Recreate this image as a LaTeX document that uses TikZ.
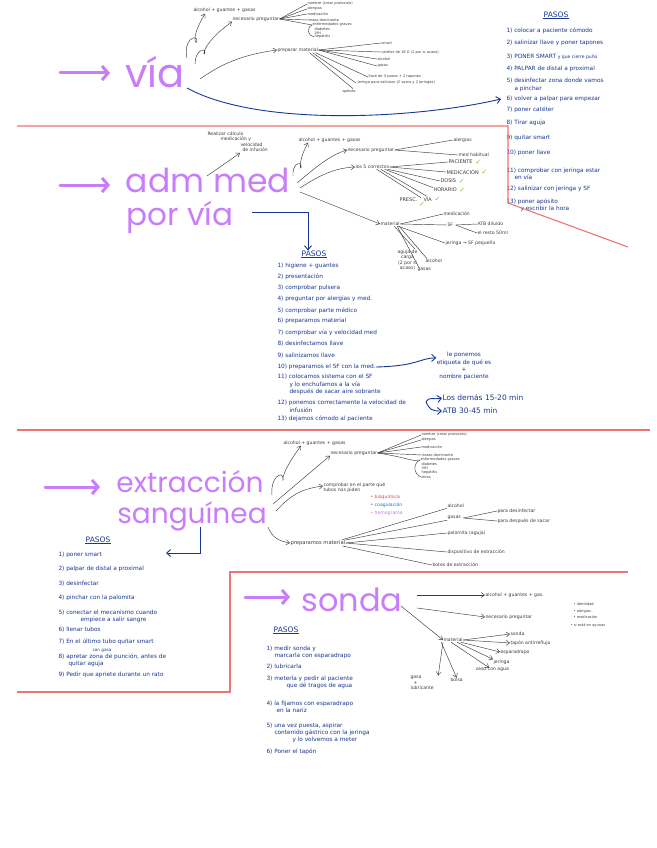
\documentclass[tikz,border=0pt]{standalone}
\usepackage{fontspec}
\setmainfont{DejaVu Sans}
\newfontfamily\tfont{Poppins}
\usetikzlibrary{arrows.meta}
\definecolor{ink}{RGB}{60,60,60}
\definecolor{bink}{RGB}{25,55,145}
\definecolor{vio}{RGB}{200,125,250}
\definecolor{redc}{RGB}{240,115,115}
\definecolor{grn}{RGB}{120,200,60}
\definecolor{rbul}{RGB}{240,60,60}
\definecolor{bbul}{RGB}{30,110,230}
\definecolor{pbul}{RGB}{190,120,240}
\newcommand\mygs{\fontsize{4.6}{5.6}\selectfont}
\newcommand\mygt{\fontsize{3.6}{4.2}\selectfont}
\newcommand\mygc{\fontsize{5}{6}\selectfont}
\newcommand\mybs{\fontsize{5.8}{7.2}\selectfont}
\newcommand\mybt{\fontsize{7.5}{8}\selectfont}
\begin{document}
\begin{tikzpicture}[x=1pt,y=-1pt,
 g/.style={font=\mygs, text=ink, inner sep=0.3pt, anchor=west},
 gt/.style={font=\mygt, text=ink, inner sep=0.3pt, anchor=west},
 gc/.style={font=\mygc, text=ink, inner sep=0.3pt, anchor=west},
 bl/.style={font=\mybs, text=bink, inner sep=0.3pt, anchor=west, align=left},
 bt/.style={font=\mybt, text=bink, inner sep=0.6pt},
 ttl/.style={text=vio, inner sep=0pt},
 arr/.style={draw=ink, line width=0.45pt, -{Straight Barb[length=3.5pt,width=5pt]}},
 ln/.style={draw=ink, line width=0.45pt},
 parr/.style={draw=vio, line width=3pt, line cap=round, -{Straight Barb[length=6pt,width=14pt]}},
 barr/.style={draw=bink, line width=0.9pt, -{Straight Barb[length=4pt,width=7pt]}},
 redl/.style={draw=redc, line width=1.1pt},
 chk/.style={text=grn, font=\fontsize{7}{7}\selectfont, inner sep=0, anchor=west}]
\fill[white] (0,0) rectangle (656,848);
\useasboundingbox (0,0) rectangle (656,848);

% ===================== VIA =====================
\node[ttl, font=\tfont\fontsize{40}{40}\selectfont] (via) at (155,72) {vía};
\coordinate (pa1) at (60,73);
\draw[parr] (pa1) -- (110,73);

\node[g] (alc1) at (193,10) {alcohol + guantes + gasas};
\node[g] (nec1) at (232,19) {necesario preguntar};
\node[gt] (n1a) at (307,4) {nombre (crear protocolo)};
\node[gt] (n1b) at (307,9) {alergias};
\node[gt] (n1c) at (307,14) {medicación};
\node[gt] (n1d) at (308,20) {brazo dominante};
\node[gt] (n1e) at (312,25) {enfermedades graves};
\node[gt] (n1f) at (314,29) {diabetes};
\node[gt] (n1g) at (314,33) {VIH};
\node[gt] (n1h) at (314,37) {hepatitis};
\foreach \t in {n1a,n1b,n1c,n1d,n1e} \draw[ln] (nec1.east) -- (\t.west);
\draw[ln] (n1e.west) .. controls (306,28) and (308,36) .. (n1h.west);

\node[g] (pm1) at (277,50) {preparar material};
\node[gt] (m1a) at (381,43) {smart};
\node[gt] (m1b) at (381,52) {catéter de 18 G (2 por si acaso)};
\node[gt] (m1c) at (377,59) {alcohol};
\node[gt] (m1d) at (377,66) {gasas};
\node[gt] (m1e) at (368,77) {llave de 3 pasos + 2 tapones};
\node[gt] (m1f) at (357,83) {jeringa para salinizar (2 suero y 2 jeringas)};
\node[gt] (m1g) at (342,91) {apósito};
\foreach \t in {m1a,m1b,m1c,m1d} \draw[ln] (pm1.east) -- (\t.west);
\draw[ln] ([xshift=-3pt]pm1.south east) -- (m1e.west);
\draw[ln] ([xshift=-6pt]pm1.south east) -- ([xshift=-1pt]m1f.west);
\draw[ln] ([xshift=-9pt]pm1.south east) -- ([xshift=4pt]m1g.north);

\coordinate (v1) at (187,58);
\coordinate (v2) at (195,64);
\coordinate (v3) at (200,79);
\draw[arr] (v1) .. controls (183,40) and (196,34) .. (197,40) .. controls (198,46) and (188,42) .. ([xshift=12pt,yshift=-1pt]alc1.south west);
\draw[arr] (v2) .. controls (195,50) and (206,47) .. (205,53) .. controls (203,58) and (200,45) .. (nec1.south west);
\draw[arr] (v3) .. controls (220,65) and (240,55) .. (pm1.west);

\coordinate (vb) at (187,88);

% ===================== PASOS (via) =====================
\node[bt] (pt1) at (556,15) {PASOS};
\draw[bink, line width=0.6pt] (pt1.south west) -- (pt1.south east);
\node[bl] (p1) at (506,31) {1) colocar a paciente cómodo};
\node[bl] (p2) at (506,43) {2) salinizar llave y poner tapones};
\node[bl] (p3) at (506,57) {3) PONER SMART {\fontsize{4.5}{5}\selectfont y que cierre puño}};
\node[bl] (p4) at (506,69) {4) PALPAR de distal a proximal};
\node[bl] (p5) at (506,85) {5) desinfectar zona donde vamos\\\hspace*{8pt}a pinchar};
\node[bl] (p6) at (506,99) {6) volver a palpar para empezar};
\node[bl] (p7) at (506,110) {7) poner catéter};
\node[bl] (p8) at (506,123) {8) Tirar aguja};
\node[bl] (p9) at (506,138) {9) quitar smart};
\node[bl] (p10) at (506,153) {10) poner llave};
\node[bl] (p11) at (506,174) {11) comprobar con jeringa estar\\\hspace*{8pt}en vía};
\node[bl] (p12) at (506,189) {12) salinizar con jeringa y SF};
\node[bl] (p13) at (506,205) {13) poner apósito\\\hspace*{14pt}y escribir la hora};
\draw[barr] (vb) .. controls (260,128) and (420,118) .. ([xshift=-5pt]p6.west);

\draw[redl] (17,126) -- (508,126) -- (508,203) -- (628,247);

% ===================== ADM MED =====================
\node[ttl, font=\tfont\fontsize{33}{33}\selectfont] (adm) at (208,180) {adm med};
\node[ttl, font=\tfont\fontsize{31}{31}\selectfont] (por) at (180,217) {por vía};
\coordinate (pa2) at (60,185);
\draw[parr] (pa2) -- (110,185);

\node[g, anchor=north west, align=left] (calc) at (207,131) {Realizar cálculo\\\hspace*{13pt}medicación y\\\hspace*{33pt}velocidad\\\hspace*{35pt}de infusión};
\coordinate (a0) at (207,176);
\draw[arr] (a0) -- (240,153);

\node[g] (alc2) at (298,140) {alcohol + guantes + gasas};
\node[g] (nec2) at (347,150) {necesario preguntar};
\node[g] (alg2) at (453,140) {alergias};
\node[g] (mh2) at (458,155) {med habitual};
\draw[ln] (nec2.east) -- (alg2.west);
\draw[ln] (nec2.east) -- (mh2.west);

\node[g] (cor) at (355,167) {los 5 correctos};
\node[gc] (pac) at (448,162) {PACIENTE};
\node[gc] (med) at (446,172) {MEDICACIÓN};
\node[gc] (dos) at (440,181) {DOSIS};
\node[gc] (hor) at (433,190) {HORARIO};
\node[gc] (via2) at (423,199) {VÍA};
\node[gc] (pre) at (399,200) {PRESC.};
\foreach \t in {pac,med,dos,hor,via2} \node[chk] at ([xshift=2pt]\t.east) {✓};
\node[chk] at ([xshift=1pt,yshift=-2pt]pre.south east) {✓};
\draw[ln] (cor.east) -- (pac.west);
\draw[ln] (cor.east) -- (med.west);
\draw[ln] ([xshift=-2pt]cor.south east) -- (dos.west);
\draw[ln] ([xshift=-5pt]cor.south east) -- (hor.north west);
\draw[ln] ([xshift=-9pt]cor.south east) -- ([xshift=-1pt]via2.north);
\draw[ln] ([xshift=-13pt]cor.south east) -- ([xshift=3pt]pre.north east);

\node[g] (mat2) at (380,224) {material};
\node[g] (medic) at (443,214) {medicación};
\node[g] (sf) at (447,225) {SF};
\node[g] (atb) at (477,224) {ATB diluido};
\node[g] (rest) at (477,233) {el resto 50ml};
\node[g] (jer2) at (445,243) {jeringa → SF pequeño};
\node[g, align=center] (agu) at (397,260) {aguja de\\carga\\(2 por si\\acaso)};
\node[g] (alco2) at (425,261) {alcohol};
\node[g] (gas2) at (417,270) {gasas};
\draw[ln] (mat2.east) -- (medic.west);
\draw[ln] (mat2.east) -- (sf.west);
\draw[ln] ([xshift=-2pt]mat2.south east) -- (jer2.west);
\draw[ln] ([xshift=2pt]sf.east) -- (atb.west);
\draw[ln] ([xshift=2pt]sf.east) -- (rest.west);
\draw[ln] ([xshift=-6pt]mat2.south east) -- ([xshift=-3pt]agu.north east);
\draw[ln] ([xshift=-3pt]mat2.south east) -- ([xshift=2pt]gas2.north west);
\draw[ln] ([xshift=-1pt]mat2.south east) -- ([xshift=2pt]alco2.north west);

\coordinate (a1) at (293,176);
\coordinate (a2) at (297,183);
\coordinate (a3) at (300,188);
\coordinate (a4) at (300,192);
\draw[arr] (a1) .. controls (292,165) and (300,160) .. (301,166) .. controls (302,172) and (296,165) .. ([xshift=10pt]alc2.south west);
\draw[arr] (a2) .. controls (315,168) and (330,155) .. (nec2.west);
\draw[arr] (a3) .. controls (320,175) and (335,168) .. (cor.west);
\draw[arr] (a4) -- (mat2.west);

% ===================== PASOS (adm med) =====================
\node[bt] (pt2) at (314,254) {PASOS};
\draw[bink, line width=0.6pt] (pt2.south west) -- (pt2.south east);
\coordinate (bp) at (252,212);
\draw[barr] (bp) -- (308,212) -- (pt2.north -| 308,0);
\node[bl] (q1) at (277,266) {1) higiene + guantes};
\node[bl] (q2) at (277,277) {2) presentación};
\node[bl] (q3) at (277,288) {3) comprobar pulsera};
\node[bl] (q4) at (277,299) {4) preguntar por alergias y med.};
\node[bl] (q5) at (277,311) {5) comprobar parte médico};
\node[bl] (q6) at (277,321) {6) preparamos material};
\node[bl] (q7) at (277,333) {7) comprobar vía y velocidad med};
\node[bl] (q8) at (277,344) {8) desinfectamos llave};
\node[bl] (q9) at (277,356) {9) salinizamos llave};
\node[bl] (q10) at (277,367) {10) preparamos el SF con la med.};
\node[bl, anchor=north west] (q11) at (277,374) {11) colocamos sistema con el SF\\\hspace*{12pt}y lo enchufamos a la vía\\\hspace*{12pt}después de sacar aire sobrante};
\node[bl, anchor=north west] (q12) at (277,400) {12) ponemos correctamente la velocidad de\\\hspace*{12pt}infusión};
\node[bl] (q13) at (277,419) {13) dejamos cómodo al paciente};
\node[bl, align=center, anchor=center] (eti) at (464,366) {le ponemos\\etiqueta de qué es\\+\\nombre paciente};
\draw[barr] (q10.east) .. controls (418,366) and (420,358) .. ([yshift=-6pt]eti.north west);
\node[bl, font=\fontsize{7.5}{8}\selectfont] (dem) at (442,398) {Los demás 15-20 min};
\node[bl, font=\fontsize{7.5}{8}\selectfont] (atb2) at (442,411) {ATB 30-45 min};
\coordinate (c12) at (426,402);
\draw[barr] (c12) .. controls (430,396) and (432,400) .. (dem.west);
\draw[barr] (c12) .. controls (430,410) and (432,411) .. (atb2.west);

\draw[redl] (17,430) -- (650,430);

% ===================== EXTRACCION =====================
\node[ttl, font=\tfont\fontsize{28}{28}\selectfont] (ext) at (190,482) {extracción};
\node[ttl, font=\tfont\fontsize{28}{28}\selectfont] (san) at (192,516) {sanguínea};
\coordinate (pa3) at (45,487);
\draw[parr] (pa3) -- (100,487);

\node[g] (alc3) at (283,443) {alcohol + guantes + gasas};
\node[g] (nec3) at (330,453) {necesario preguntar};
\node[gt] (e1) at (421,435) {nombre (crear protocolo)};
\node[gt] (e2) at (421,440) {alergias};
\node[gt] (e3) at (421,447) {medicación};
\node[gt] (e4) at (422,455) {brazo dominante};
\node[gt] (e5) at (420,460) {enfermedades graves};
\node[gt] (e6) at (421,464) {diabetes};
\node[gt] (e7) at (421,468) {VIH};
\node[gt] (e8) at (421,473) {hepatitis};
\node[gt] (e9) at (421,477) {otras};
\foreach \t in {e1,e2,e3,e4} \draw[ln] (nec3.east) -- (\t.west);
\draw[ln] (nec3.east) .. controls (410,458) and (412,462) .. (e5.west);
\draw[ln] (e5.west) .. controls (413,463) and (413,474) .. (e9.west);

\node[g, align=left, anchor=north west] (tub) at (323,482) {comprobar en el parte qué\\tubos nos piden};
\node[g, text=rbul] (bio) at (370,497) {• bioquímica};
\node[g, text=bbul] (coa) at (370,505) {• coagulación};
\node[g, text=pbul] (hem) at (370,513) {• hemograma};

\node[g, font=\fontsize{5.2}{6}\selectfont] (pm3) at (290,543) {preparamos material};
\node[g] (alc4) at (447,506) {alcohol};
\node[g] (gas3) at (447,518) {gasas};
\node[g] (pdes) at (497,511) {para desinfectar};
\node[g] (pdsp) at (497,521) {para después de sacar};
\node[g] (pal) at (447,533) {palomita (aguja)};
\node[g] (dis) at (447,552) {dispositivo de extracción};
\node[g] (bot) at (432,565) {botes de extracción};
\draw[ln] ([xshift=-4pt]pm3.north east) -- (alc4.south west);
\draw[ln] (pm3.north east) -- (gas3.south west);
\draw[ln] (pm3.east) -- (pal.west);
\draw[ln] (pm3.east) -- (dis.west);
\draw[ln] ([xshift=-3pt]pm3.south east) -- (bot.west);
\draw[ln] ([xshift=2pt]gas3.east) -- (pdes.west);
\draw[ln] ([xshift=2pt]gas3.east) -- (pdsp.west);

\coordinate (x1) at (272,495);
\coordinate (x2) at (273,504);
\coordinate (x3) at (276,511);
\coordinate (x4) at (268,527);
\draw[arr] (x1) .. controls (270,478) and (282,470) .. (283,478) .. controls (284,484) and (277,478) .. ([xshift=18pt]alc3.south west);
\draw[arr] (x2) -- (nec3.south west);
\draw[arr] (x3) .. controls (290,496) and (300,489) .. (tub.west |- 0,486);
\draw[arr] (x4) .. controls (272,537) and (278,541) .. (pm3.west);

% ===================== PASOS (extraccion) =====================
\node[bt] (pt3) at (98,540) {PASOS};
\draw[bink, line width=0.6pt] (pt3.south west) -- (pt3.south east);
\coordinate (bx) at (200,527);
\draw[barr] (bx) -- (200,553) -- (166,553);
\node[bl] (r1) at (58,555) {1) poner smart};
\node[bl] (r2) at (58,569) {2) palpar de distal a proximal};
\node[bl] (r3) at (58,584) {3) desinfectar};
\node[bl] (r4) at (58,598) {4) pinchar con la palomita};
\node[bl] (r5) at (58,616) {5) conectar el mecanismo cuando\\\hspace*{22pt}empiece a salir sangre};
\node[bl] (r6) at (58,630) {6) llenar tubos};
\node[bl] (r7) at (58,642) {7) En el último tubo quitar smart};
\node[bl, font=\fontsize{4.2}{5}\selectfont] (r8a) at (92,651) {con gasa};
\node[bl] (r8) at (58,660) {8) apretar zona de punción, antes de\\\hspace*{10pt}quitar aguja};
\node[bl] (r9) at (58,675) {9) Pedir que apriete durante un rato};

\draw[redl] (17,692) -- (230,692) -- (230,572) -- (628,572);

% ===================== SONDA =====================
\node[ttl, font=\tfont\fontsize{32}{32}\selectfont] (son) at (352,600) {sonda};
\coordinate (pa4) at (245,597);
\draw[parr] (pa4) -- (290,597);

\node[g] (alc5) at (485,595) {alcohol + guantes + gas.};
\node[g] (nec5) at (485,617) {necesario preguntar};
\node[gt] (s1) at (573,604) {• identidad};
\node[gt] (s2) at (573,611) {• alergias};
\node[gt] (s3) at (573,617) {• medicación};
\node[gt] (s4) at (570,625) {• si está en ayunas};
\node[g] (mat5) at (443,640) {material};
\node[g] (t1) at (510,634) {sonda};
\node[g] (t2) at (510,643) {tapón antirreflujo};
\node[g] (t3) at (500,652) {esparadrapo};
\node[g] (t4) at (493,662) {jeringa};
\node[g] (t5) at (475,670) {vaso con agua};
\node[g] (t6) at (450,680) {bolsa};
\node[g, align=left] (t7) at (410,683) {gasa\\\hspace*{3pt}+\\lubricante};
\coordinate (s0a) at (417,595);
\coordinate (s0b) at (417,608);
\coordinate (s0c) at (401,606);
\draw[arr] (s0a) -- (alc5.west);
\draw[arr] (s0b) -- (nec5.west);
\draw[arr] (s0c) -- (mat5.west);
\draw[arr] (mat5.east) -- (t1.west);
\draw[arr] (mat5.east) -- (t2.west);
\draw[arr] ([xshift=-2pt]mat5.south east) -- (t3.west);
\draw[arr] ([xshift=-6pt]mat5.south east) -- (t4.north west);
\draw[arr] ([xshift=-12pt]mat5.south east) -- ([xshift=-3pt]t5.north);
\draw[arr] ([xshift=-22pt]mat5.south east) -- (t6.north);
\draw[arr] (mat5.south west) -- ([xshift=4pt]t7.north east);

% ===================== PASOS (sonda) =====================
\node[bt] (pt4) at (286,630) {PASOS};
\draw[bink, line width=0.6pt] (pt4.south west) -- (pt4.south east);
\node[bl] (u1) at (266,652) {1) medir sonda y\\\hspace*{8pt}marcarla con esparadrapo};
\node[bl] (u2) at (266,667) {2) lubricarla};
\node[bl] (u3) at (266,682) {3) meterla y pedir al paciente\\\hspace*{20pt}que dé tragos de agua};
\node[bl] (u4) at (266,707) {4) la fijamos con esparadrapo\\\hspace*{10pt}en la nariz};
\node[bl] (u5) at (266,733) {5) una vez puesta, aspirar\\\hspace*{8pt}contenido gástrico con la jeringa\\\hspace*{26pt}y lo volvemos a meter};
\node[bl] (u6) at (266,752) {6) Poner el tapón};
\end{tikzpicture}
\end{document}
